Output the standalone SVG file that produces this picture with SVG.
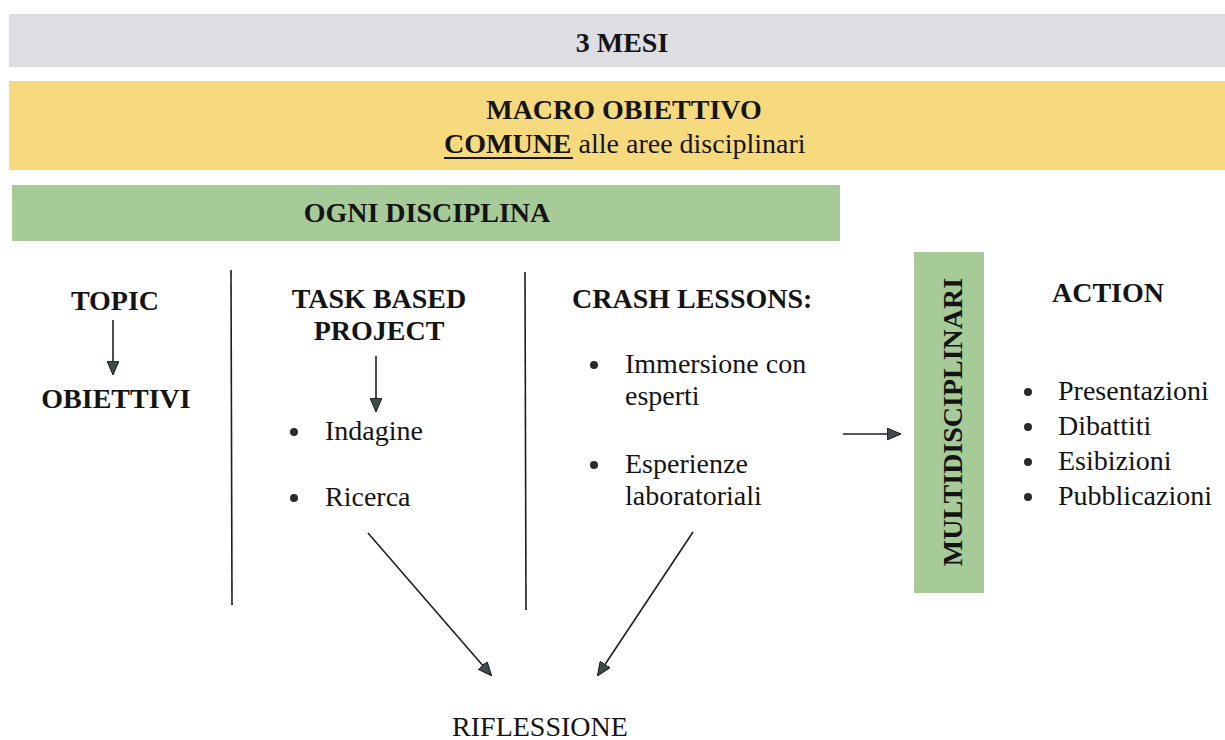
<svg xmlns="http://www.w3.org/2000/svg" width="1225" height="740" viewBox="0 0 1225 740">
  <style>
    text { font-family: "Liberation Serif", "DejaVu Serif", serif; font-size: 28px; fill: #141414; }
    .b { font-weight: bold; }
    .c { text-anchor: middle; }
    .ln { stroke: #1e1e1e; stroke-width: 1.6; fill: none; }
    .conn { stroke: #1e1e1e; stroke-width: 1.6; fill: none; marker-end: url(#tri); }
    .dot { fill: #2a2a2a; }
  </style>
  <defs>
    <marker id="tri" viewBox="0 0 14 12" refX="13" refY="6" markerWidth="14" markerHeight="12" markerUnits="userSpaceOnUse" orient="auto">
      <path d="M0,0 L14,6 L0,12 Z" fill="#3f4b4b" stroke="#1a1a1a" stroke-width="1"/>
    </marker>
  </defs>

  <rect width="1225" height="740" fill="#ffffff"/>

  <!-- header bands -->
  <g id="band-mesi">
    <rect x="9" y="14" width="1216" height="53" fill="#dedee2"/>
    <text class="b c" x="622" y="52" font-family="Liberation Serif, serif">3 MESI</text>
  </g>
  <g id="band-macro">
    <rect x="9" y="81" width="1216" height="89" fill="#f8da7e"/>
    <text class="b c" x="624" y="119">MACRO OBIETTIVO</text>
    <text x="444" y="153"><tspan class="b">COMUNE</tspan> alle aree disciplinari</text>
    <line x1="444" y1="158" x2="573" y2="158" stroke="#141414" stroke-width="2"/>
  </g>
  <g id="band-disciplina">
    <rect x="12" y="185" width="828" height="56" fill="#a6cb98"/>
    <text class="b c" x="427" y="222">OGNI DISCIPLINA</text>
  </g>

  <!-- column separators -->
  <g id="separators">
    <line class="ln" x1="231" y1="270" x2="232" y2="605"/>
    <line class="ln" x1="525" y1="272" x2="526" y2="610"/>
  </g>

  <g id="topic">
    <text class="b c" x="115" y="310">TOPIC</text>
  </g>
  <g id="obiettivi">
    <text class="b c" x="116" y="408">OBIETTIVI</text>
  </g>

  <g id="task-project">
    <text class="b c" x="379" y="308">TASK BASED</text>
    <text class="b c" x="379" y="340">PROJECT</text>
  </g>
  <g id="task-items">
    <circle class="dot" cx="294" cy="432" r="4"/>
    <text x="325" y="440">Indagine</text>
    <circle class="dot" cx="294" cy="498" r="4"/>
    <text x="325" y="506">Ricerca</text>
  </g>

  <g id="crash-lessons">
    <text class="b" x="572" y="308">CRASH LESSONS:</text>
    <circle class="dot" cx="594" cy="365" r="4"/>
    <text x="625" y="373">Immersione con</text>
    <text x="625" y="405">esperti</text>
    <circle class="dot" cx="594" cy="465" r="4"/>
    <text x="625" y="473">Esperienze</text>
    <text x="625" y="505">laboratoriali</text>
  </g>

  <g id="multidisciplinari">
    <rect x="914" y="252" width="70" height="341" fill="#a6cb98"/>
    <text class="b c" transform="translate(962,422) rotate(-90)" x="0" y="0">MULTIDISCIPLINARI</text>
  </g>

  <g id="action">
    <text class="b" x="1052" y="302">ACTION</text>
    <circle class="dot" cx="1028" cy="392" r="4"/>
    <text x="1058" y="400">Presentazioni</text>
    <circle class="dot" cx="1028" cy="427" r="4"/>
    <text x="1058" y="435">Dibattiti</text>
    <circle class="dot" cx="1028" cy="462" r="4"/>
    <text x="1058" y="470">Esibizioni</text>
    <circle class="dot" cx="1028" cy="497" r="4"/>
    <text x="1058" y="505">Pubblicazioni</text>
  </g>

  <g id="riflessione">
    <text class="c" x="540" y="736">RIFLESSIONE</text>
  </g>

  <!-- connectors -->
  <g id="connectors">
    <line class="conn" x1="113" y1="320" x2="113" y2="374"/>
    <line class="conn" x1="376" y1="356" x2="376" y2="411"/>
    <line class="conn" x1="843" y1="434" x2="900" y2="434"/>
    <line class="conn" x1="368" y1="533" x2="491" y2="675"/>
    <line class="conn" x1="693" y1="532" x2="598" y2="675"/>
  </g>
</svg>
